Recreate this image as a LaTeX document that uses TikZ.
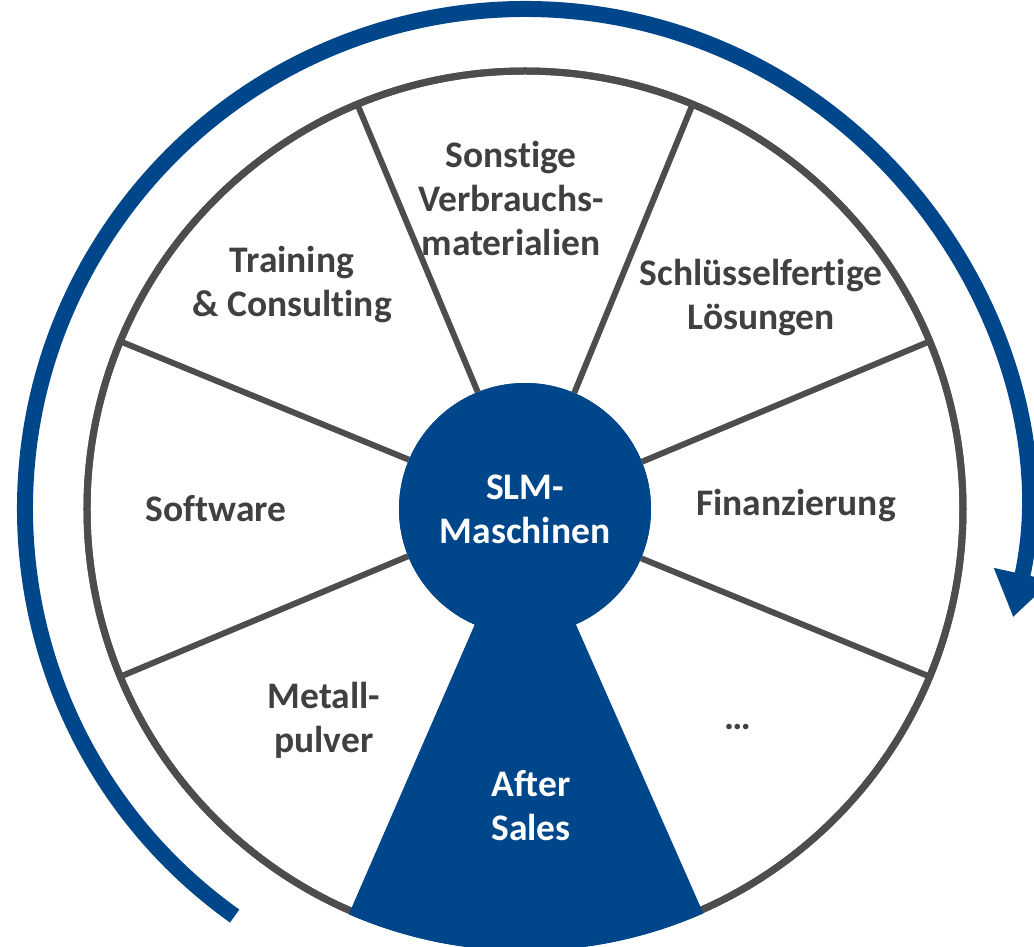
\documentclass[tikz,border=0pt]{standalone}
\usepackage{fontspec}
\setmainfont{Carlito}[Ligatures=NoCommon]
\usetikzlibrary{arrows.meta}
\definecolor{slmblue}{RGB}{0,70,139}
\definecolor{rimgrey}{RGB}{77,77,77}
\definecolor{textgrey}{RGB}{64,64,64}

\begin{document}
\begin{tikzpicture}[x=1pt, y=1pt,
  every node/.style = {align=center, font=\fontsize{37.5}{44}\selectfont\bfseries},
  field/.style = {text=textgrey},
  hub/.style = {circle, fill=slmblue, text=white,
    minimum size=252pt, inner sep=0pt},
  spoke/.style = {draw=rimgrey, line width=6pt},
  rim/.style = {draw=rimgrey, line width=7pt, fill=white},
  flow/.style = {draw=slmblue, line width=16pt,
    -{Triangle[width=56pt, length=44pt]}}]
  \useasboundingbox (-525,-438) rectangle (509,509);
  % wheel
  \draw[rim] (0,0) circle (438);
  \node[hub] (hub) at (0,0) {};
  \draw[spoke] (hub.22.5) -- (22.5:438);
  \draw[spoke] (hub.67.5) -- (67.5:438);
  \draw[spoke] (hub.112.5) -- (112.5:438);
  \draw[spoke] (hub.157.5) -- (157.5:438);
  \draw[spoke] (hub.202.5) -- (202.5:438);
  \draw[spoke] (hub.337.5) -- (337.5:438);
  \draw[rimgrey, line width=7pt] (0,0) circle (438);
  % after sales sector
  \fill[slmblue] (0,0) -- (246.5:442)
    arc[start angle=246.5, end angle=293.8, radius=442] -- cycle;
  \node[hub] (core) at (0,0) {SLM-\\Maschinen};
  \node[text=white] (sales) at (6,-297) {After\\Sales};
  % fields
  \node[field] (misc) at (-14,311) {Sonstige\\Verbrauchs-\\materialien};
  \node[field] (train) at (-233,224) {Training\\\& Consulting};
  \node[field] (turnkey) at (236,211) {Schlüsselfertige\\Lösungen};
  \node[field] (soft) at (-309,0) {Software};
  \node[field] (fin) at (271,3) {Finanzierung};
  \node[field] (powder) at (-201,-211) {Metall-\\pulver};
  \node[field, anchor=base] (more) at (213,-221) {…};
  % cycle arrow
  \draw[flow] (234.5:500) arc[start angle=234.5, end angle=-12.5, radius=500];
\end{tikzpicture}
\end{document}
